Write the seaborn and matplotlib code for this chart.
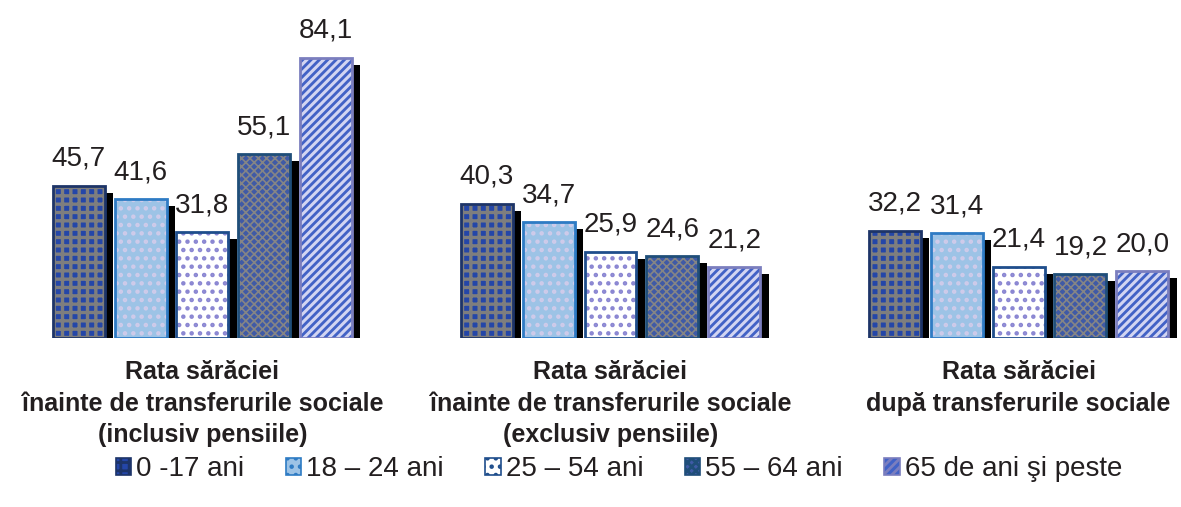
import matplotlib
matplotlib.use("Agg")
import matplotlib.pyplot as plt
import matplotlib.patheffects as pe
from matplotlib.patches import Patch
import pandas as pd
import seaborn as sns

# data
groups = [
    "Rata sărăciei\nînainte de transferurile sociale\n(inclusiv pensiile)",
    "Rata sărăciei\nînainte de transferurile sociale\n(exclusiv pensiile)",
    "Rata sărăciei\ndupă transferurile sociale",
]
ages = ["0 -17 ani", "18 – 24 ani", "25 – 54 ani", "55 – 64 ani", "65 de ani şi peste"]
val_0_17 = [45.7, 40.3, 32.2]
val_18_24 = [41.6, 34.7, 31.4]
val_25_54 = [31.8, 25.9, 21.4]
val_55_64 = [55.1, 24.6, 19.2]
val_65 = [84.1, 21.2, 20.0]

# styling per age group: fill, hatch colour, hatch, hatch width, border
face_colors = ["#2446A8", "#9DC3E6", "#FFFFFF", "#3F5AA6", "#4262C6"]
hatch_colors = ["#7E7E7E", "#CFCBEA", "#8A86D2", "#858585", "#D2D5F2"]
hatches = ["++", "..", "..", "xxxx", "////"]
hatch_widths = [2.4, 2.0, 2.0, 1.2, 2.2]
border_colors = ["#1D3468", "#2E7BC4", "#1F4E8C", "#1F4E79", "#7B7EBE"]

rows = []
for age, vals in zip(ages, [val_0_17, val_18_24, val_25_54, val_55_64, val_65]):
    for g, v in zip(groups, vals):
        rows.append({"group": g, "age": age, "value": v})
df = pd.DataFrame(rows)

sns.set_style("white")
plt.rcParams["font.family"] = ["Liberation Sans", "DejaVu Sans"]
plt.rcParams["hatch.linewidth"] = 2.0
text_color = "#231F20"

fig = plt.figure(figsize=(11.81, 5.07), dpi=100)
ax = fig.add_axes([0.0, 0.3333, 1.0, 0.5917])

# filled + hatched bars
sns.barplot(data=df, x="group", y="value", hue="age", order=groups, hue_order=ages,
            palette=face_colors, width=0.758, gap=0.16, linewidth=0,
            legend=False, ax=ax, saturation=1)
shadow = [pe.SimplePatchShadow(offset=(6, -5), shadow_rgbFace="black", alpha=1, hatch=None),
          pe.Normal()]
for i, cont in enumerate(ax.containers):
    for bar in cont:
        bar.set_hatch(hatches[i])
        bar.set_edgecolor(hatch_colors[i])
        bar.set_linewidth(0)
        if hasattr(bar, "set_hatch_linewidth"):
            bar.set_hatch_linewidth(hatch_widths[i])
        bar.set_path_effects(shadow)
    labels = [f"{v:.1f}".replace(".", ",") for v in cont.datavalues]
    ax.bar_label(cont, labels=labels, padding=10, fontsize=20, color=text_color)

# outlines on top
sns.barplot(data=df, x="group", y="value", hue="age", order=groups, hue_order=ages,
            palette=border_colors, width=0.758, gap=0.16, fill=False, linewidth=2,
            legend=False, ax=ax, saturation=1)

ax.set_ylim(0, 90)
ax.set_xlim(-0.496, 2.398)
ax.set_xlabel("")
ax.set_ylabel("")
ax.set_yticks([])
ax.tick_params(axis="x", length=0, pad=16)
for lab in ax.get_xticklabels():
    lab.set_fontsize(18)
    lab.set_fontweight("bold")
    lab.set_color(text_color)
    lab.set_linespacing(1.4)
sns.despine(ax=ax, left=True, bottom=True)

handles = []
for i in range(len(ages)):
    h = Patch(facecolor=face_colors[i], edgecolor=border_colors[i], hatch=hatches[i],
              linewidth=1.2)
    handles.append(h)
leg = fig.legend(handles, ages, loc="center", bbox_to_anchor=(0.524, 0.075), ncol=5,
                 frameon=False, fontsize=20, handlelength=0.55, handleheight=0.55,
                 handletextpad=0.18, columnspacing=1.5)
for t in leg.get_texts():
    t.set_color(text_color)

fig.savefig("out.png", dpi=100)
